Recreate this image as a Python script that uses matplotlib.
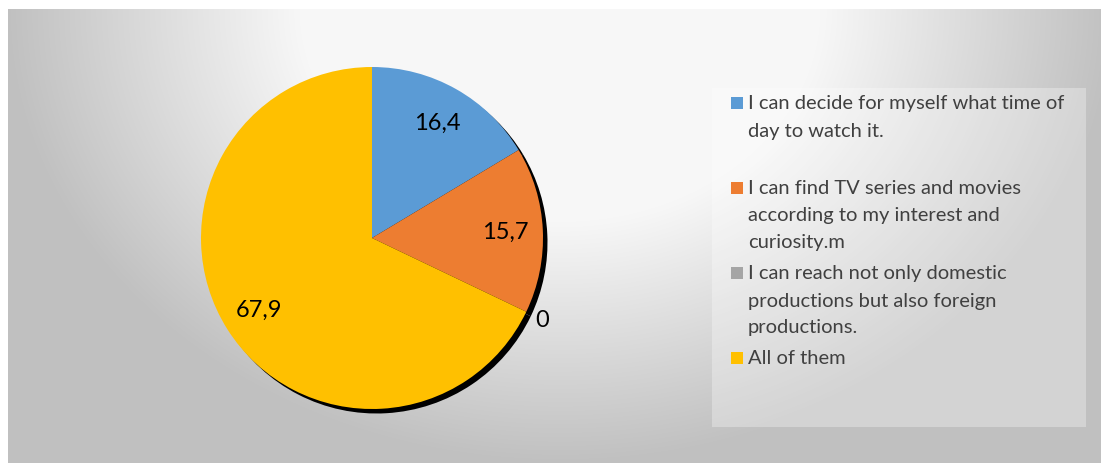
import numpy as np
import matplotlib
matplotlib.use("Agg")
import matplotlib.pyplot as plt
from matplotlib.patches import Rectangle

plt.rcParams['font.family'] = ['Lato', 'DejaVu Sans']

# survey answers (percent)
categories = [
    "I can decide for myself what time of\nday to watch it.\n",
    "I can find TV series and movies\naccording to my interest and\ncuriosity.m",
    "I can reach not only domestic\nproductions but also foreign\nproductions.",
    "All of them",
]
values = [16.4, 15.7, 0, 67.9]
value_labels = ["16,4", "15,7", "0", "67,9"]
colors = ["#5B9BD5", "#ED7D31", "#A5A5A5", "#FFC000"]

W, H = 1101, 464
fig = plt.figure(figsize=(W / 100, H / 100), dpi=100)
fig.patch.set_facecolor("white")

# gradient backdrop of the chart area
bg = fig.add_axes([8 / W, 0, 1 - 8 / W, (H - 10) / H])
bg.set_axis_off()
xx, yy = np.meshgrid(np.arange(8, W), np.arange(10, H))
d = np.sqrt(((xx - 560) / 555.0) ** 2 + ((yy - 10) / 454.0) ** 2)
t = np.clip((d - 0.47) / 0.53, 0, 1)
shade = (247 - t * 55) / 255.0
img = np.dstack([shade, shade, shade])
bg.imshow(img, extent=[0, 1, 0, 1], aspect="auto", interpolation="bilinear")
bg.set_xlim(0, 1)
bg.set_ylim(0, 1)

# pie
cx, cy, r = 372, 239, 171
half = 200
ax = fig.add_axes([(cx - half) / W, (H - cy - half) / H, 2 * half / W, 2 * half / H])
lim = half / r

# hard drop shadow behind the pie
off = 4.5 / r
ax.pie(values, colors=["black"] * len(values), startangle=90, counterclock=False,
       center=(off, -off), radius=1, frame=True)
wedges, _ = ax.pie(values, colors=colors, startangle=90, counterclock=False,
                   radius=1, frame=True)
ax.set_xlim(-lim, lim)
ax.set_ylim(-lim, lim)
ax.set_axis_off()

for w, v, lab in zip(wedges, values, value_labels):
    mid = np.deg2rad((w.theta1 + w.theta2) / 2)
    dist = 0.78 if v > 0 else 1.1
    ax.text(dist * np.cos(mid), dist * np.sin(mid), lab, ha="center", va="center",
            fontsize=17, color="black")

# legend panel
fig.patches.append(Rectangle((712 / W, (H - 428) / H), (1086 - 712) / W, (428 - 89) / H,
                             transform=fig.transFigure, facecolor="white", alpha=0.3,
                             edgecolor="none"))

line_h = 27
y = 104
for name, col in zip(categories, colors):
    fig.patches.append(Rectangle((731 / W, (H - y - 6) / H), 12 / W, 12 / H,
                                 transform=fig.transFigure, facecolor=col, edgecolor="none"))
    for ln in name.split("\n"):
        if ln:
            fig.text(748 / W, (H - y) / H, ln, ha="left", va="center",
                     fontsize=14.5, color="#404040")
        y += line_h
    y += 4

fig.savefig("out.png", dpi=100)
